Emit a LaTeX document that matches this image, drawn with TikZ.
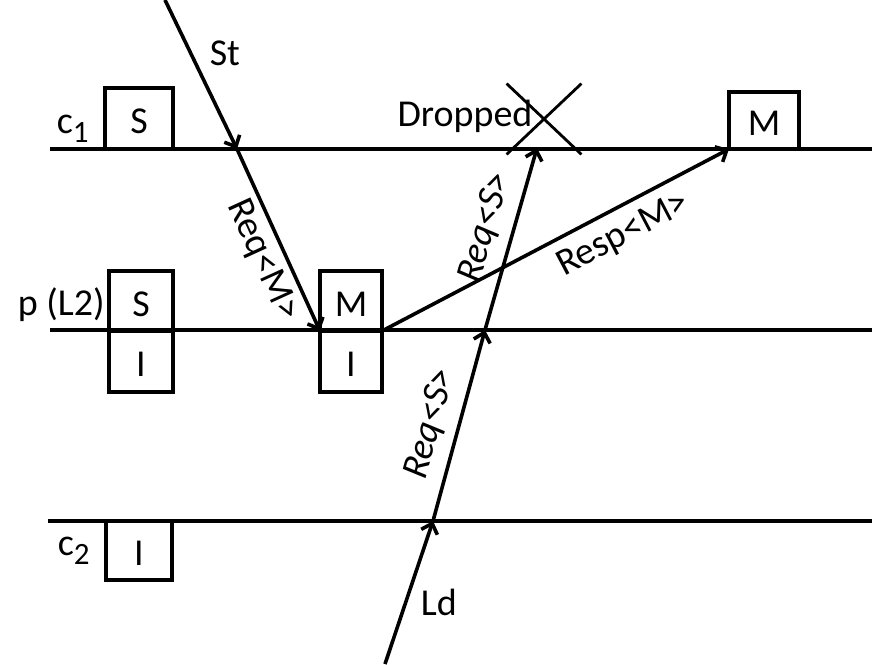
\documentclass[tikz,border=0pt]{standalone}
\usepackage{fontspec}
\setmainfont{Carlito}
\usetikzlibrary{arrows.meta,shapes.misc}
\begin{document}
\begin{tikzpicture}[
x=1pt, y=-1pt,
>={Straight Barb[length=9pt,width=17pt]},
font=\fontsize{38}{42}\selectfont,
line width=3.6pt,
state/.style={draw, inner sep=0pt, outer sep=0pt, minimum width=64pt, minimum height=60pt, text height=30pt, text depth=0pt},
tag/.style={inner sep=0pt},
arrow/.style={draw,->},
lbl/.style={sloped, inner sep=6pt}
]
\useasboundingbox (0,0) rectangle (872,664);

\coordinate (c1L) at (50,149);
\coordinate (c1R) at (872,149);
\coordinate (pL) at (50,330);
\coordinate (pR) at (872,330);
\coordinate (c2L) at (48,521);
\coordinate (c2R) at (872,521);
\coordinate (stTop) at (165,0);
\coordinate (stHit) at (237,149);
\coordinate (ldBot) at (385,664);
\coordinate (ldHit) at (433,521);
\coordinate (pHit) at (485,330);
\coordinate (dropHit) at (537,148);

\draw (c1L) -- (c1R);
\draw (pL) -- (pR);
\draw (c2L) -- (c2R);

\node[state, minimum width=68pt, minimum height=61pt] (c1S) at (139,118.5) {S};
\node[state] (pS) at (141,301) {S};
\node[state, minimum height=61pt] (pSI) at (141,361.5) {I};
\node[state, minimum width=62pt] (pM) at (351,301) {M};
\node[state, minimum width=62pt, minimum height=61pt] (pMI) at (351,361.5) {I};
\node[state, minimum width=66pt, minimum height=59pt] (c2I) at (139,550.5) {I};
\node[state, minimum width=70pt, minimum height=57pt] (c1M) at (764,120.5) {M};

\node[tag, anchor=base west] (c1lbl) at (55,133) {c\raisebox{-9pt}{\fontsize{31}{31}\selectfont 1}};
\node[tag, anchor=base west] (plbl) at (16,315) {p (L2)};
\node[tag, anchor=base west] (c2lbl) at (56,555) {c\raisebox{-9pt}{\fontsize{31}{31}\selectfont 2}};
\node[tag, anchor=base west] (stlbl) at (208,65) {St};
\node[tag, anchor=base west] (ldlbl) at (419,615) {Ld};
\node[tag, anchor=base] (droplbl) at (465,126) {Dropped};
\node[draw, cross out, line width=2.8pt, inner sep=0pt, minimum width=72pt, minimum height=68pt] (drop) at (544,119) {};

\path[arrow] (stTop) -- (stHit);
\path[arrow] (stHit) -- node[lbl, below, pos=0.56] {Req<M>} (pM.south west);
\path[arrow] (pM.south east) -- node[lbl, below, inner sep=10pt, pos=0.66] {Resp<M>} (c1M.south west);
\path[arrow] (ldBot) -- (ldHit);
\path[arrow] (ldHit) -- node[lbl, above, inner sep=10pt, pos=0.47] {\itshape Req<S>} (pHit);
\path[arrow] (pHit) -- node[lbl, above, inner sep=10pt, pos=0.52] {\itshape Req<S>} (dropHit);

\end{tikzpicture}
\end{document}
